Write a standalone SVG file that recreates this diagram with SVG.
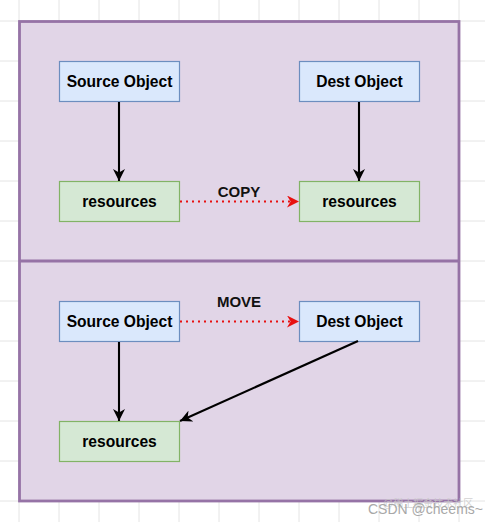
<svg xmlns="http://www.w3.org/2000/svg" width="485" height="522" viewBox="0 0 485 522">
<defs>
<style>
.grid{stroke:#e4e4e4;stroke-width:1}
.box{stroke-width:1.2}
.obj{fill:#dae8fc;stroke:#6c8ebf}
.res{fill:#d5e8d4;stroke:#82b366}
.lbl{font-family:"Liberation Sans",Arial,sans-serif;font-weight:bold;font-size:15.6px;fill:#000;text-anchor:middle}
.edge{fill:none;stroke:#000;stroke-width:2.1}
.dot{fill:none;stroke:#e81010;stroke-width:2.2;stroke-dasharray:2 4}
.elbl{font-family:"Liberation Sans",Arial,sans-serif;font-weight:bold;font-size:15px;fill:#111;text-anchor:middle}
</style>
<marker id="ab" viewBox="0 0 10 10" refX="10" refY="5" markerWidth="12" markerHeight="12" markerUnits="userSpaceOnUse" orient="auto">
<path d="M0,0 L10,5 L0,10 L3,5 Z" fill="#000"/>
</marker>
<marker id="ar" viewBox="0 0 10 10" refX="10" refY="5" markerWidth="12" markerHeight="12" markerUnits="userSpaceOnUse" orient="auto">
<path d="M0,0 L10,5 L0,10 L3,5 Z" fill="#e81010"/>
</marker>
</defs>
<rect x="0" y="0" width="485" height="522" fill="#ffffff"/>
<g id="grid" class="grid">
<line x1="19" y1="0" x2="19" y2="522"/><line x1="59" y1="0" x2="59" y2="522"/><line x1="99" y1="0" x2="99" y2="522"/><line x1="139" y1="0" x2="139" y2="522"/><line x1="179" y1="0" x2="179" y2="522"/><line x1="219" y1="0" x2="219" y2="522"/><line x1="259" y1="0" x2="259" y2="522"/><line x1="299" y1="0" x2="299" y2="522"/><line x1="339" y1="0" x2="339" y2="522"/><line x1="379" y1="0" x2="379" y2="522"/><line x1="419" y1="0" x2="419" y2="522"/><line x1="459" y1="0" x2="459" y2="522"/>
<line x1="0" y1="21" x2="485" y2="21"/><line x1="0" y1="61" x2="485" y2="61"/><line x1="0" y1="101" x2="485" y2="101"/><line x1="0" y1="141" x2="485" y2="141"/><line x1="0" y1="181" x2="485" y2="181"/><line x1="0" y1="221" x2="485" y2="221"/><line x1="0" y1="261" x2="485" y2="261"/><line x1="0" y1="301" x2="485" y2="301"/><line x1="0" y1="341" x2="485" y2="341"/><line x1="0" y1="381" x2="485" y2="381"/><line x1="0" y1="421" x2="485" y2="421"/><line x1="0" y1="461" x2="485" y2="461"/><line x1="0" y1="501" x2="485" y2="501"/>
</g>
<g id="container">
<rect x="19.5" y="21.5" width="439.5" height="479.5" fill="#e1d5e7" stroke="#9673a6" stroke-width="2.8"/>
<line x1="19.5" y1="261" x2="459" y2="261" stroke="#9673a6" stroke-width="2.8"/>
</g>
<g id="copy-source"><rect class="box obj" x="59.5" y="61.5" width="120" height="40"/><text class="lbl" x="119.5" y="87">Source Object</text></g>
<g id="copy-dest"><rect class="box obj" x="299.5" y="61.5" width="120" height="40"/><text class="lbl" x="359.5" y="87">Dest Object</text></g>
<g id="copy-res-src"><rect class="box res" x="59.5" y="181.5" width="120" height="40"/><text class="lbl" x="119.5" y="207">resources</text></g>
<g id="copy-res-dst"><rect class="box res" x="299.5" y="181.5" width="120" height="40"/><text class="lbl" x="359.5" y="207">resources</text></g>
<g id="move-source"><rect class="box obj" x="59.5" y="301.5" width="120" height="40"/><text class="lbl" x="119.5" y="327">Source Object</text></g>
<g id="move-dest"><rect class="box obj" x="299.5" y="301.5" width="120" height="40"/><text class="lbl" x="359.5" y="327">Dest Object</text></g>
<g id="move-res"><rect class="box res" x="59.5" y="421.5" width="120" height="40"/><text class="lbl" x="119.5" y="447">resources</text></g>
<g id="connectors">
<line class="edge" x1="119" y1="102" x2="119" y2="181" marker-end="url(#ab)"/>
<line class="edge" x1="359" y1="102" x2="359" y2="181" marker-end="url(#ab)"/>
<line class="dot" x1="180" y1="201.5" x2="299" y2="201.5" marker-end="url(#ar)"/>
<text class="elbl" x="239" y="197">COPY</text>
<line class="dot" x1="180" y1="321.5" x2="299" y2="321.5" marker-end="url(#ar)"/>
<text class="elbl" x="239" y="307">MOVE</text>
<line class="edge" x1="119" y1="342" x2="119" y2="421" marker-end="url(#ab)"/>
<line class="edge" x1="358" y1="341" x2="180" y2="421" marker-end="url(#ab)"/>
</g>
<g id="watermark" font-family="'Liberation Sans','Noto Sans CJK SC',sans-serif">
<text x="383" y="507" font-size="10" fill="#c8c8c8" opacity="0.8">@稀土掘金技术社区</text>
<text x="368" y="514" font-size="14" fill="#a8a8a8">CSDN @cheems~</text>
</g>
</svg>
